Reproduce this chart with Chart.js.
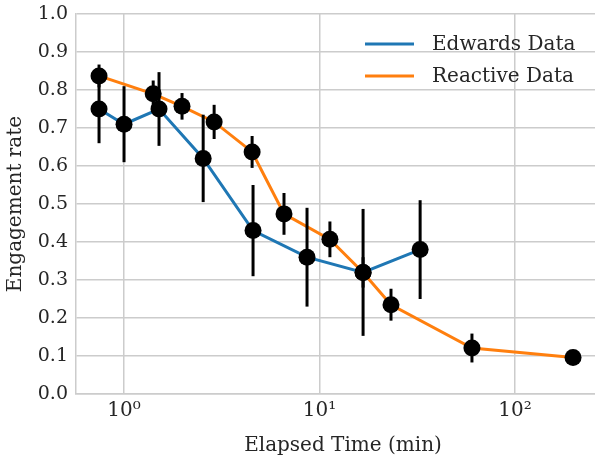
<!DOCTYPE html>
<html>
<head>
<meta charset="utf-8">
<script src="https://cdn.jsdelivr.net/npm/chart.js"></script>
<style>
html, body { margin:0; padding:0; background:#fff; overflow:hidden }
#wrap { width:610px; height:458px }
</style>
</head>
<body>
<div id="wrap"><canvas id="chart"></canvas></div>
<script>
// ===== DATA =====
const edwardsX   = [0.745, 1.0, 1.51, 2.54, 4.57, 8.63, 16.7, 32.7];
const edwardsY   = [0.75, 0.71, 0.75, 0.62, 0.43, 0.36, 0.32, 0.38];
const edwardsErr = [0.09, 0.10, 0.097, 0.115, 0.12, 0.13, 0.167, 0.13];

const reactiveX   = [0.745, 1.41, 1.98, 2.89, 4.52, 6.58, 11.3, 16.7, 23.2, 60.2, 198];
const reactiveY   = [0.837, 0.79, 0.757, 0.716, 0.637, 0.474, 0.407, 0.32, 0.235, 0.121, 0.096];
const reactiveErr = [0.03, 0.035, 0.035, 0.045, 0.042, 0.055, 0.047, 0.04, 0.042, 0.038, 0.015];

const xTicks = [1, 10, 100];
const xTickLabels = ["10⁰", "10¹", "10²"];
const yTicks = [0, 0.1, 0.2, 0.3, 0.4, 0.5, 0.6, 0.7, 0.8, 0.9, 1.0];

const BLUE = "#1f77b4", ORANGE = "#ff7f0e", GRID = "#cccccc", TEXT = "#262626";
const FONT = "'DejaVu Serif', serif";

const pts = (xs, ys) => xs.map((x, i) => ({ x: x, y: ys[i] }));

// error bars, drawn from the scales
const errorBars = {
  id: "errorBars",
  afterDatasetsDraw(chart) {
    const ctx = chart.ctx, xs = chart.scales.x, ys = chart.scales.y;
    const sets = [[edwardsX, edwardsY, edwardsErr], [reactiveX, reactiveY, reactiveErr]];
    ctx.save();
    ctx.strokeStyle = "#000";
    ctx.lineWidth = 3;
    sets.forEach(([X, Y, E]) => {
      X.forEach((x, i) => {
        const px = xs.getPixelForValue(x);
        ctx.beginPath();
        ctx.moveTo(px, ys.getPixelForValue(Y[i] - E[i]));
        ctx.lineTo(px, ys.getPixelForValue(Y[i] + E[i]));
        ctx.stroke();
      });
    });
    ctx.restore();
  }
};

// legend inside the plot, upper right
const innerLegend = {
  id: "innerLegend",
  afterDraw(chart) {
    const ctx = chart.ctx, a = chart.chartArea;
    const items = [["Edwards Data", BLUE], ["Reactive Data", ORANGE]];
    ctx.save();
    ctx.font = "20px " + FONT;
    ctx.textBaseline = "middle";
    items.forEach(([label, color], i) => {
      const y = a.top + 30 + i * 32;
      ctx.strokeStyle = color;
      ctx.lineWidth = 3;
      ctx.beginPath();
      ctx.moveTo(365, y);
      ctx.lineTo(414, y);
      ctx.stroke();
      ctx.fillStyle = TEXT;
      ctx.fillText(label, 432, y + 1);
    });
    ctx.restore();
  }
};

new Chart(document.getElementById("chart"), {
  type: "line",
  data: {
    datasets: [
      { label: "Edwards Data", data: pts(edwardsX, edwardsY), borderColor: BLUE, borderWidth: 3, pointRadius: 0, fill: false, order: 3 },
      { label: "Reactive Data", data: pts(reactiveX, reactiveY), borderColor: ORANGE, borderWidth: 3, pointRadius: 0, fill: false, order: 2 },
      { type: "scatter", data: pts(edwardsX, edwardsY), pointRadius: 8.5, pointBackgroundColor: "#000", pointBorderWidth: 0, showLine: false, order: 1 },
      { type: "scatter", data: pts(reactiveX, reactiveY), pointRadius: 8.5, pointBackgroundColor: "#000", pointBorderWidth: 0, showLine: false, order: 0 }
    ]
  },
  options: {
    responsive: true,
    maintainAspectRatio: false,
    animation: false,
    layout: { autoPadding: false, padding: { top: 14, right: 0, left: 0, bottom: 0 } },
    plugins: { legend: { display: false }, tooltip: { enabled: false } },
    scales: {
      x: {
        type: "logarithmic",
        min: 0.568,
        max: 306,
        afterBuildTicks: s => { s.ticks = xTicks.map(v => ({ value: v })); },
        afterFit: s => { s.height = 64; s.paddingLeft = 0; s.paddingRight = 0; },
        ticks: {
          autoSkip: false,
          maxRotation: 0,
          color: TEXT,
          font: { family: FONT, size: 20 },
          padding: 5,
          callback: (v) => xTickLabels[xTicks.indexOf(v)]
        },
        grid: { color: GRID, lineWidth: 1.5, drawTicks: false },
        border: { color: GRID, width: 1.5 },
        title: { display: true, text: "Elapsed Time (min)", color: TEXT, font: { family: FONT, size: 20 }, padding: { top: 0, bottom: 0 } }
      },
      y: {
        min: 0,
        max: 1,
        afterBuildTicks: s => { s.ticks = yTicks.map(v => ({ value: v })); },
        afterFit: s => { s.width = 76; s.paddingTop = 0; s.paddingBottom = 0; },
        ticks: {
          color: TEXT,
          font: { family: FONT, size: 19 },
          padding: 8,
          callback: v => v.toFixed(1)
        },
        grid: { color: GRID, lineWidth: 1.5, drawTicks: false },
        border: { color: GRID, width: 1.5 },
        title: { display: true, text: "Engagement rate", color: TEXT, font: { family: FONT, size: 20 }, padding: { top: 4, bottom: 0 } }
      }
    }
  },
  plugins: [errorBars, innerLegend]
});
</script>
</body>
</html>
